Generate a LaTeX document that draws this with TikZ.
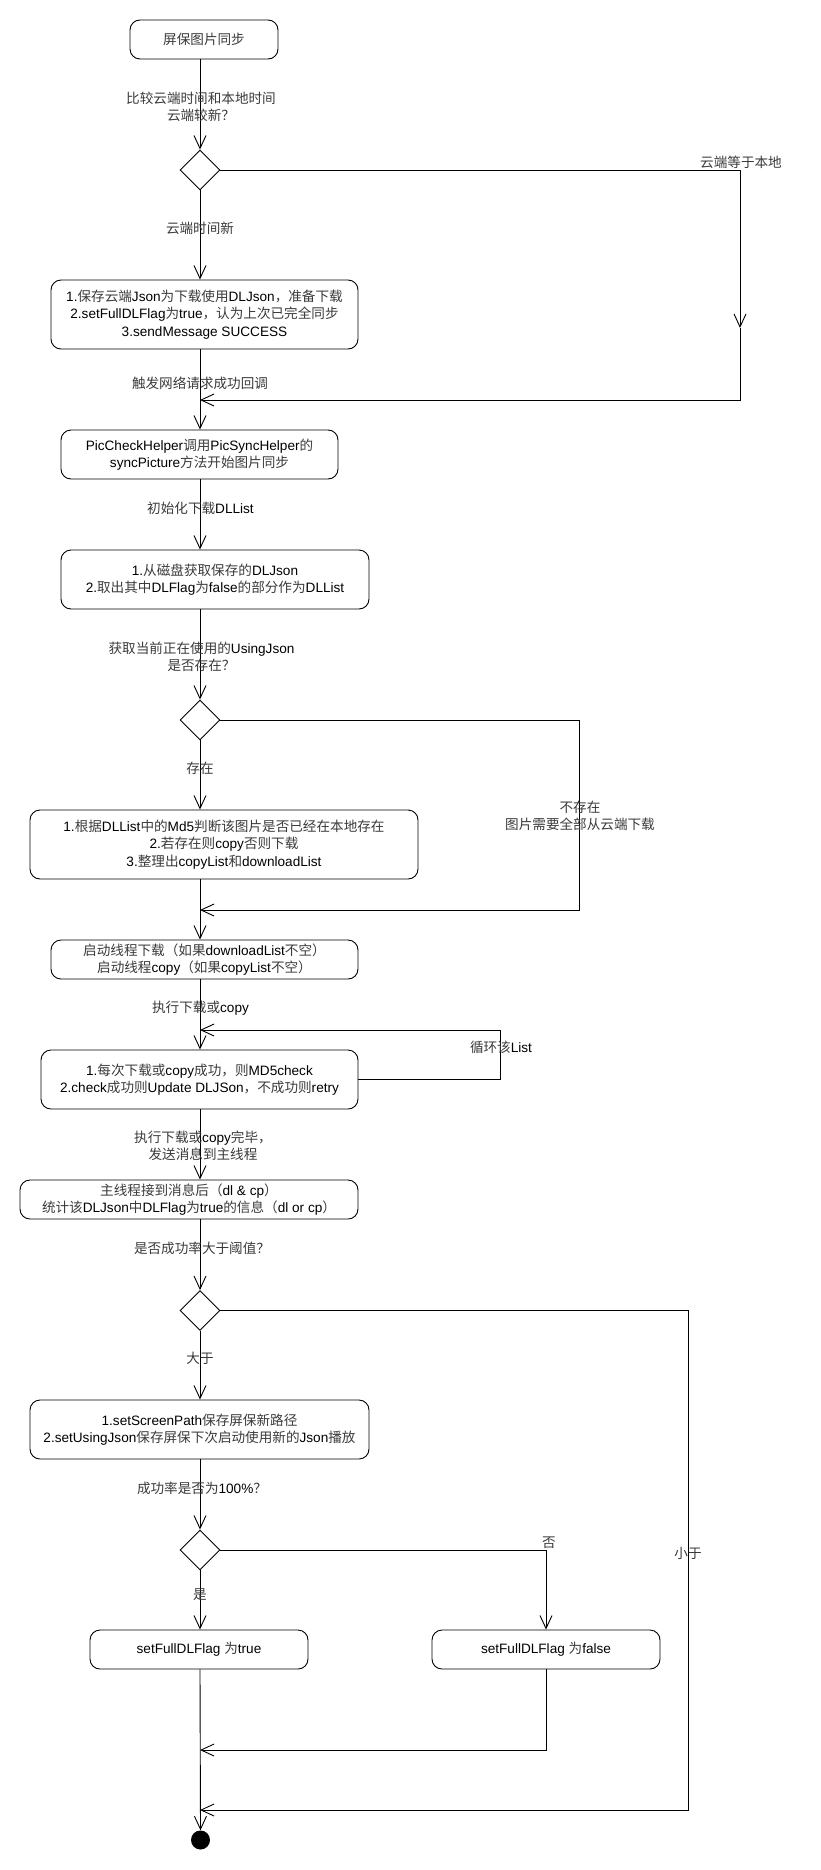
\documentclass[tikz,border=0pt]{standalone}
\usepackage{fontspec}
\usepackage{tikz}
\usetikzlibrary{shapes.geometric, arrows.meta}
\setmainfont{Liberation Sans}
\newfontfamily\latinfont{Liberation Sans}
\newfontfamily\cjkfont[Color=3A3A3A]{Noto Sans CJK SC}
%% switch fonts between Latin and Chinese characters
\XeTeXinterchartokenstate=1
\newXeTeXintercharclass\cjkclass
\newcount\cjkcode
\cjkcode="3000
\loop\ifnum\cjkcode<"A000
  \XeTeXcharclass\cjkcode=\cjkclass
  \advance\cjkcode by 1
\repeat
\cjkcode="FF00
\loop\ifnum\cjkcode<"FFF0
  \XeTeXcharclass\cjkcode=\cjkclass
  \advance\cjkcode by 1
\repeat
\XeTeXinterchartoks 0 \cjkclass={\cjkfont}
\XeTeXinterchartoks 4095 \cjkclass={\cjkfont}
\XeTeXinterchartoks \cjkclass 0={\latinfont}
\XeTeXinterchartoks \cjkclass 4095={\latinfont}
\tikzset{
  act/.style={rectangle, rounded corners=10pt, draw=black, line width=0.9pt,
              align=center, inner sep=0pt, font=\fontsize{13.6}{17.5}\selectfont},
  cond/.style={diamond, draw=black, line width=0.9pt, minimum width=40pt,
               minimum height=40pt, inner sep=0pt},
  lbl/.style={align=center, inner sep=0pt, font=\fontsize{13.6}{17.5}\selectfont},
  flow/.style={-{Straight Barb[length=13pt,width=12pt]}, line width=0.9pt},
}
\begin{document}
\begin{tikzpicture}[x=1pt, y=-1pt]
  \useasboundingbox (0,0) rectangle (820,1870);
  \coordinate (axis) at (200,0);

  %% === Actions and decisions ===
  \node[act, minimum width=148pt, minimum height=39pt] (b0) at (204,39.5) {屏保图片同步};
  \node[cond] (d1) at (200,170) {};
  \node[act, minimum width=307pt, minimum height=69pt] (b1) at (204.5,314.5)
        {1.保存云端Json为下载使用DLJson，准备下载\\2.setFullDLFlag为true，认为上次已完全同步\\3.sendMessage SUCCESS};
  \node[act, minimum width=277pt, minimum height=49pt] (b2) at (199.5,454.5)
        {PicCheckHelper调用PicSyncHelper的\\syncPicture方法开始图片同步};
  \node[act, minimum width=308pt, minimum height=59pt] (b3) at (215,579.5)
        {1.从磁盘获取保存的DLJson\\2.取出其中DLFlag为false的部分作为DLList};
  \node[cond] (d2) at (200,720) {};
  \node[act, minimum width=388pt, minimum height=69pt] (b4) at (224,844.5)
        {1.根据DLList中的Md5判断该图片是否已经在本地存在\\2.若存在则copy否则下载\\3.整理出copyList和downloadList};
  \node[act, minimum width=307pt, minimum height=39pt] (b5) at (204.5,959.5)
        {启动线程下载（如果downloadList不空）\\启动线程copy（如果copyList不空）};
  \node[act, minimum width=317pt, minimum height=59pt] (b6) at (199.5,1079.5)
        {1.每次下载或copy成功，则MD5check\\2.check成功则Update DLJSon，不成功则retry};
  \node[act, minimum width=338pt, minimum height=39pt] (b7) at (189,1199.5)
        {主线程接到消息后（dl \& cp）\\统计该DLJson中DLFlag为true的信息（dl or cp）};
  \node[cond] (d3) at (200,1310.5) {};
  \node[act, minimum width=339pt, minimum height=59pt] (b8) at (199.5,1429.5)
        {1.setScreenPath保存屏保新路径\\2.setUsingJson保存屏保下次启动使用新的Json播放};
  \node[cond] (d4) at (200,1550) {};
  \node[act, minimum width=218pt, minimum height=39pt] (b9) at (199,1649.5) {setFullDLFlag 为true};
  \node[act, minimum width=228pt, minimum height=39pt] (b10) at (546,1649.5) {setFullDLFlag 为false};
  \node[circle, fill=black, minimum size=19pt, inner sep=0pt] (end) at (200.5,1840) {};

  %% === Join points ===
  \coordinate (j1) at (740,328);
  \coordinate (m1) at (200,400);
  \coordinate (k2) at (579,910);
  \coordinate (m2) at (200,910);
  \coordinate (lp) at (500,1030);
  \coordinate (m3) at (200,1030);
  \coordinate (m4) at (200,1750);
  \coordinate (k3) at (688,1810);
  \coordinate (m5) at (200,1810);

  %% === Main column ===
  \draw[flow] (b0.south -| axis) -- (d1.north);
  \draw[flow] (d1.south) -- (b1.north -| axis);
  \draw[flow] (b1.south -| axis) -- (b2.north -| axis);
  \draw[flow] (b2.south -| axis) -- (b3.north -| axis);
  \draw[flow] (b3.south -| axis) -- (d2.north);
  \draw[flow] (d2.south) -- (b4.north -| axis);
  \draw[flow] (b4.south -| axis) -- (b5.north -| axis);
  \draw[flow] (b5.south -| axis) -- (b6.north -| axis);
  \draw[flow] (b6.south -| axis) -- (b7.north -| axis);
  \draw[flow] (b7.south -| axis) -- (d3.north);
  \draw[flow] (d3.south) -- (b8.north -| axis);
  \draw[flow] (b8.south -| axis) -- (d4.north);
  \draw[flow] (d4.south) -- (b9.north -| axis);
  \draw[flow] (b9.south -| axis) -- (end.north);

  %% === Side branches ===
  \draw[flow] (d1.east) -| (j1);
  \draw[flow] (j1) |- (m1);
  \draw[flow] (d2.east) -| (k2) -- (m2);
  \draw[flow] (b6.east) -| (lp) -- (m3);   % retry loop
  \draw[flow] (d3.east) -| (k3) -- (m5);
  \draw[flow] (d4.east) -| (b10.north);
  \draw[flow] (b10.south) |- (m4);

  %% === Connector labels ===
  \node[lbl] (l1) at (201,107) {比较云端时间和本地时间\\云端较新？};
  \node[lbl] (l2) at (200,228) {云端时间新};
  \node[lbl] (l3) at (741,162) {云端等于本地};
  \node[lbl] (l4) at (200,383) {触发网络请求成功回调};
  \node[lbl] (l5) at (200.5,508) {初始化下载DLList};
  \node[lbl] (l6) at (201.5,657) {获取当前正在使用的UsingJson\\是否存在？};
  \node[lbl] (l7) at (200,768) {存在};
  \node[lbl] (l8) at (580,816) {不存在\\图片需要全部从云端下载};
  \node[lbl] (l9) at (200.5,1008) {执行下载或copy};
  \node[lbl] (l10) at (501,1047) {循环该List};
  \node[lbl] (l11) at (203,1146) {执行下载或copy完毕，\\发送消息到主线程};
  \node[lbl] (l12) at (202,1248) {是否成功率大于阈值？};
  \node[lbl] (l13) at (200,1358) {大于};
  \node[lbl] (l14) at (688,1553) {小于};
  \node[lbl] (l15) at (202,1488) {成功率是否为100\%？};
  \node[lbl] (l16) at (200,1595) {是};
  \node[lbl] (l17) at (549,1543) {否};
\end{tikzpicture}
\end{document}
